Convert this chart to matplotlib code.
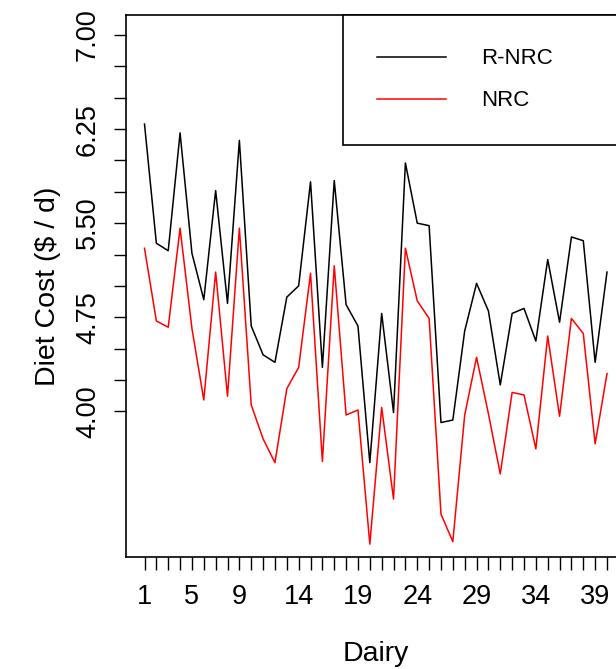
import matplotlib
matplotlib.use("Agg")
import matplotlib.pyplot as plt

plt.rcParams['font.family'] = ['Liberation Sans', 'DejaVu Sans']

dairy = list(range(1, 41))
rnrc = [6.29, 5.34, 5.28, 6.22, 5.26, 4.89, 5.76, 4.86, 6.16, 4.68,
        4.45, 4.39, 4.91, 5.00, 5.83, 4.35, 5.84, 4.85, 4.68, 3.59,
        4.78, 3.99, 5.98, 5.50, 5.48, 3.91, 3.93, 4.64, 5.02, 4.80,
        4.21, 4.78, 4.82, 4.56, 5.21, 4.71, 5.39, 5.36, 4.39, 5.11]
nrc = [5.30, 4.72, 4.67, 5.46, 4.66, 4.09, 5.11, 4.12, 5.46, 4.05,
       3.78, 3.59, 4.18, 4.35, 5.10, 3.60, 5.16, 3.97, 4.01, 2.94,
       4.03, 3.30, 5.30, 4.88, 4.74, 3.18, 2.96, 3.97, 4.43, 3.98,
       3.50, 4.15, 4.13, 3.70, 4.60, 3.96, 4.74, 4.62, 3.74, 4.30]
series_names = ["R-NRC", "NRC"]
yticks = [4.00 + 0.25 * k for k in range(13)]
ytick_labels = ["4.00", "", "", "4.75", "", "", "5.50", "", "", "6.25", "", "", "7.00"]
xtick_shown = [1, 5, 9, 14, 19, 24, 29, 34, 39]

W, H = 616, 669
fig = plt.figure(figsize=(W / 100, H / 100), dpi=100)
ax = fig.add_axes([126 / W, (H - 556.7) / H, (625.5 - 126) / W, (556.7 - 15) / H])

ax.plot(dairy, rnrc, color="black", lw=1.1, label=series_names[0])
ax.plot(dairy, nrc, color="red", lw=1.1, label=series_names[1])

ax.set_xlim(-0.56, 41.56)
ax.set_ylim(2.84, 7.16)

ax.set_xticks(dairy)
ax.set_xticklabels([str(d) if d in xtick_shown else "" for d in dairy])
ax.set_yticks(yticks)
ax.set_yticklabels(ytick_labels, rotation=90, va="center")

ax.tick_params(axis="x", length=9, width=1.0, pad=11, labelsize=19.5)
ax.tick_params(axis="y", length=9, width=1.0, pad=9, labelsize=19.5)
for s in ax.spines.values():
    s.set_linewidth(1.2)

ax.set_xlabel("Dairy", fontsize=20.5, labelpad=22)
ax.set_ylabel("Diet Cost ($ / d)", fontsize=20.5, labelpad=10)

leg = ax.legend(loc="upper right", bbox_to_anchor=(0.435, 0, 0.565, 1),
                mode="expand", borderaxespad=0, fontsize=16,
                handlelength=3.1, handletextpad=1.6, borderpad=1.5,
                labelspacing=0.95, fancybox=False, framealpha=1)
leg.get_frame().set_edgecolor("black")
leg.get_frame().set_linewidth(1.2)

fig.savefig("out.png", dpi=100)
